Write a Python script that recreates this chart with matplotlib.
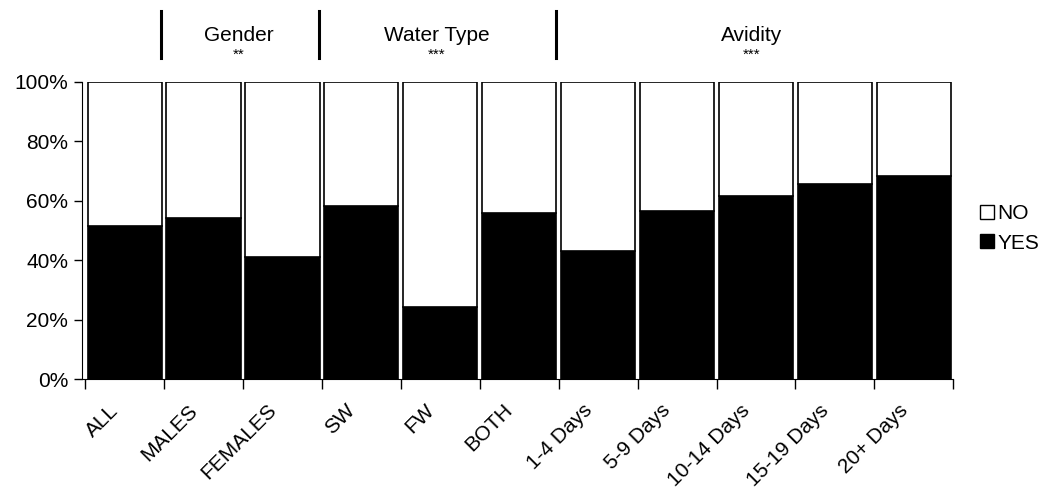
import numpy as np
import matplotlib
matplotlib.use('Agg')
import matplotlib.pyplot as plt
import matplotlib.transforms as mtransforms
from matplotlib.patches import Patch

plt.rcParams['font.family'] = ['Liberation Sans', 'DejaVu Sans']

categories = ['ALL', 'MALES', 'FEMALES', 'SW', 'FW', 'BOTH',
              '1-4 Days', '5-9 Days', '10-14 Days', '15-19 Days', '20+ Days']
yes = [51.5, 54.3, 40.9, 58.2, 24.1, 56.0, 43.0, 56.6, 61.6, 65.5, 68.3]
no = [100 - v for v in yes]

groups = ['Gender', 'Water Type', 'Avidity']
group_stars = ['**', '***', '***']
group_bounds = [(0.5, 2.5), (2.5, 5.5), (5.5, 10.5)]

fs = 15
fig = plt.figure(figsize=(10.46, 4.91), dpi=100)
ax = fig.add_axes([0.0784, 0.228, 0.833, 0.6056])

x = np.arange(len(categories))
ax.bar(x, yes, width=0.94, color='black', edgecolor='black', linewidth=1.2, label='YES')
ax.bar(x, no, bottom=yes, width=0.94, color='white', edgecolor='black', linewidth=1.2, label='NO')

ax.set_xlim(-0.54, 10.5)
ax.set_ylim(0, 100)
ax.set_yticks([0, 20, 40, 60, 80, 100])
ax.set_yticklabels(['0%', '20%', '40%', '60%', '80%', '100%'], fontsize=fs)
ax.set_xticks(x)
ax.set_xticklabels(categories, rotation=45, ha='right', rotation_mode='anchor', fontsize=fs)
ax.set_xticks(np.arange(-0.5, 11, 1), minor=True)
ax.tick_params(axis='x', which='major', length=0, pad=12)
ax.tick_params(axis='x', which='minor', length=7, width=1, direction='out')
ax.tick_params(axis='y', length=6, width=1, direction='out', pad=4)
for s in ['top', 'right']:
    ax.spines[s].set_visible(False)

shift = mtransforms.ScaledTranslation(-16 / 100, -5 / 100, fig.dpi_scale_trans)
for lab in ax.get_xticklabels():
    lab.set_transform(lab.get_transform() + shift)

# group headers above the bars
trans = mtransforms.blended_transform_factory(ax.transData, ax.transAxes)
for xb in [0.46, 2.46, 5.46]:
    ax.plot([xb, xb], [1.08, 1.238], color='black', lw=2.2, transform=trans, clip_on=False)
for name, stars, (a, b) in zip(groups, group_stars, group_bounds):
    xc = (a + b) / 2 - 0.05
    ax.text(xc, 1.155, name, transform=trans, ha='center', va='center', fontsize=fs)
    ax.text(xc, 1.09, stars, transform=trans, ha='center', va='center', fontsize=11)

handles = [Patch(facecolor='white', edgecolor='black', label='NO'),
           Patch(facecolor='black', edgecolor='black', label='YES')]
fig.legend(handles=handles, loc='center left', bbox_to_anchor=(0.919, 0.535), frameon=False,
           fontsize=fs, handlelength=0.65, handleheight=0.65, handletextpad=0.2, labelspacing=0.5)

fig.savefig('out.png', dpi=100)
